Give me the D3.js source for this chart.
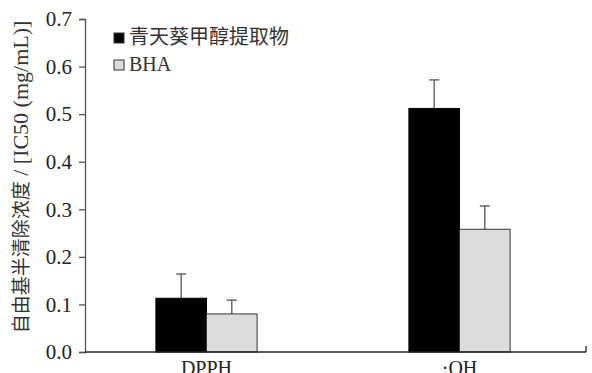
<!DOCTYPE html>
<html>
<head>
<meta charset="utf-8">
<script src="https://cdn.jsdelivr.net/npm/d3@7"></script>
<style>
  body { margin: 0; background: #fff; }
  text { font-family: "Times New Roman", "Liberation Serif", Tinos, "Noto Sans CJK SC", serif; }
</style>
</head>
<body>
<script>
var categories = ["DPPH", "·OH"];
var series = ["青天葵甲醇提取物", "BHA"];
var values = [[0.113, 0.080], [0.512, 0.258]];
var errors = [[0.051, 0.029], [0.060, 0.049]];
var yTicks = [0, 0.1, 0.2, 0.3, 0.4, 0.5, 0.6, 0.7];

var width = 592, height = 373;
var marginLeft = 85, marginRight = 586, marginTop = 19, marginBottom = 352;
var colors = ["#000000", "#dcdcdc"];

var svg = d3.select("body").append("svg")
    .attr("width", width)
    .attr("height", height);

var y = d3.scaleLinear().domain([0, 0.7]).range([marginBottom, marginTop]);
var x0 = d3.scaleBand().domain(categories).range([80, marginRight]);
var x1 = d3.scaleBand().domain(series).range([0, x0.bandwidth()]).paddingOuter(1.5);

// bars
var groups = svg.selectAll("g.cat")
    .data(categories)
  .enter().append("g")
    .attr("transform", function(d) { return "translate(" + x0(d) + ",0)"; });

groups.each(function(c, ci) {
  var g = d3.select(this);
  series.forEach(function(s, si) {
    var v = values[ci][si], e = errors[ci][si];
    var cx = x1(s) + x1.bandwidth() / 2;
    g.append("line")
      .attr("x1", cx).attr("x2", cx)
      .attr("y1", y(v)).attr("y2", y(v + e))
      .attr("stroke", "#555").attr("stroke-width", 1.3);
    g.append("line")
      .attr("x1", cx - 5).attr("x2", cx + 5)
      .attr("y1", y(v + e)).attr("y2", y(v + e))
      .attr("stroke", "#555").attr("stroke-width", 1.3);
    g.append("rect")
      .attr("x", x1(s))
      .attr("y", y(v))
      .attr("width", x1.bandwidth())
      .attr("height", y(0) - y(v))
      .attr("fill", colors[si])
      .attr("stroke", si == 0 ? "#000" : "#333")
      .attr("stroke-width", 1);
  });
});

// y axis
var yAxis = d3.axisLeft(y).tickValues(yTicks).tickSize(6).tickPadding(7)
    .tickFormat(d3.format(".1f"));
var ya = svg.append("g").attr("transform", "translate(" + marginLeft + ",0)").call(yAxis);
ya.select(".domain").attr("stroke", "#555").attr("stroke-width", 1.3);
ya.selectAll(".tick line").attr("stroke", "#555").attr("stroke-width", 1.3);
ya.selectAll(".tick text").attr("font-size", "21px").attr("fill", "#222")
    .style("font-family", "\"Times New Roman\", \"Liberation Serif\", Tinos, serif");

// x axis
svg.append("line")
    .attr("x1", marginLeft).attr("x2", marginRight)
    .attr("y1", marginBottom).attr("y2", marginBottom)
    .attr("stroke", "#222").attr("stroke-width", 1.3);
svg.append("line")
    .attr("x1", marginRight).attr("x2", marginRight)
    .attr("y1", marginBottom).attr("y2", marginBottom - 6)
    .attr("stroke", "#222").attr("stroke-width", 1.3);

svg.selectAll("text.xl")
    .data(categories)
  .enter().append("text")
    .attr("x", function(d) { return x0(d) + x0.bandwidth() / 2; })
    .attr("y", marginBottom + 23)
    .attr("text-anchor", "middle")
    .attr("font-size", "20px")
    .attr("fill", "#222")
    .text(function(d) { return d; });

// y label: Chinese part smaller than the Latin part
var yl = svg.append("text")
    .attr("transform", "translate(28,177) rotate(-90)")
    .attr("text-anchor", "middle")
    .attr("fill", "#333");
yl.append("tspan").attr("font-size", "19px").text("自由基半清除浓度");
yl.append("tspan").attr("font-size", "22px").text(" / [IC50 (mg/mL)]");

// legend
var legend = svg.selectAll("g.leg")
    .data(series)
  .enter().append("g")
    .attr("transform", function(d, i) { return "translate(114," + (33 + i * 27) + ")"; });
legend.append("rect")
    .attr("width", 10).attr("height", 10)
    .attr("fill", function(d, i) { return colors[i]; })
    .attr("stroke", "#333").attr("stroke-width", 1);
legend.append("text")
    .attr("x", 15).attr("y", 11)
    .attr("font-size", "20px")
    .attr("fill", "#333")
    .text(function(d) { return d; });
</script>
</body>
</html>
